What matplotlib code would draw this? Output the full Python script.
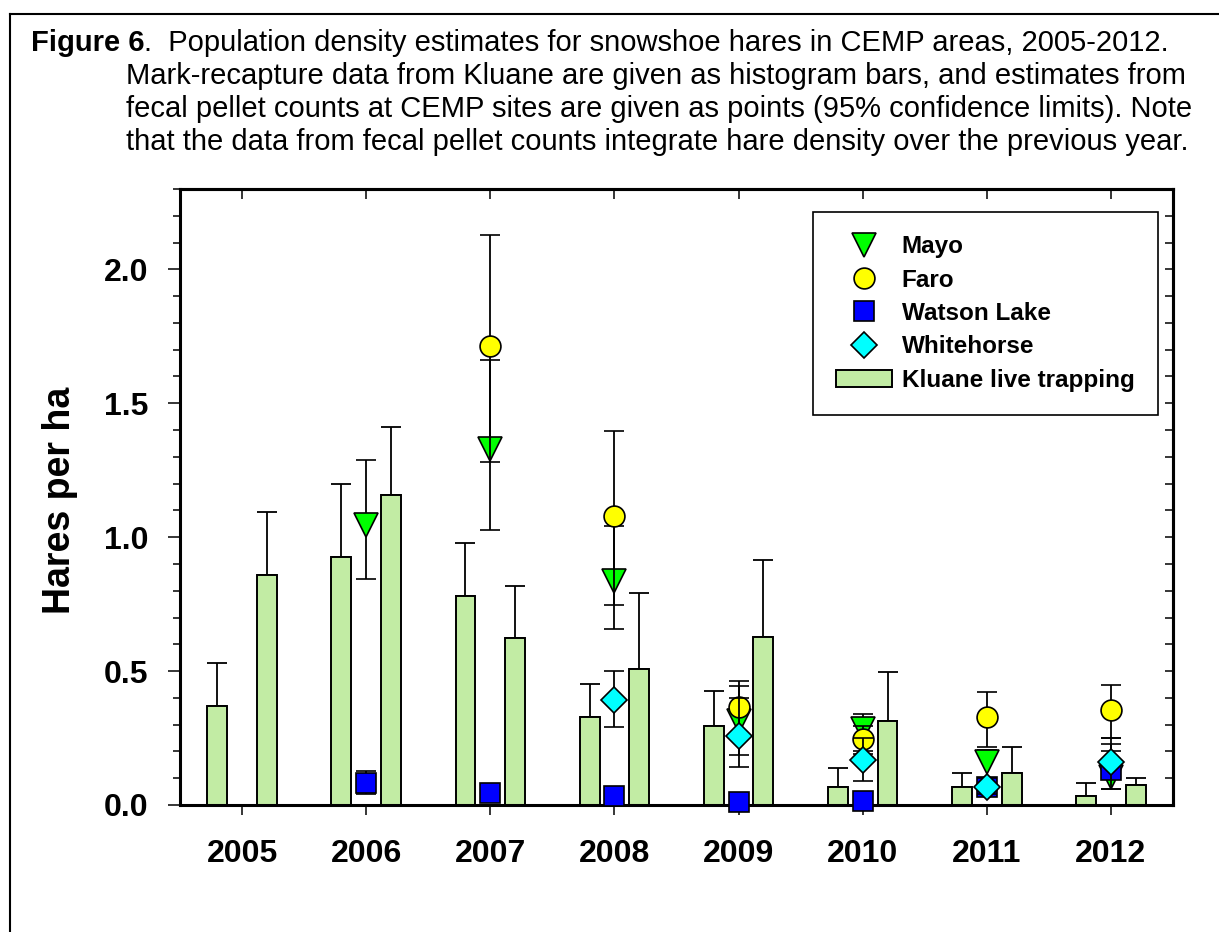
import numpy as np
import matplotlib
matplotlib.use("Agg")
import matplotlib.pyplot as plt
from matplotlib.lines import Line2D
from matplotlib.patches import Patch
from matplotlib.ticker import MultipleLocator

plt.rcParams['font.family'] = ['Liberation Sans', 'DejaVu Sans']

# Kluane live trapping (two bars per year)
years = [2005, 2006, 2007, 2008, 2009, 2010, 2011, 2012]
kluane_spring = [0.37, 0.925, 0.78, 0.327, 0.295, 0.069, 0.069, 0.034]
kluane_spring_upper = [0.53, 1.20, 0.98, 0.45, 0.425, 0.138, 0.12, 0.083]
kluane_autumn = [0.86, 1.158, 0.623, 0.507, 0.627, 0.312, 0.118, 0.074]
kluane_autumn_upper = [1.095, 1.41, 0.818, 0.791, 0.914, 0.496, 0.218, 0.10]

# fecal pellet estimates with 95% limits
mayo_years = [2006, 2007, 2008, 2009, 2010, 2011, 2012]
mayo = [1.044, 1.328, 0.837, 0.315, 0.284, 0.161, 0.105]
mayo_lo = [0.843, 1.026, 0.657, 0.187, 0.20, 0.10, 0.061]
mayo_hi = [1.29, 1.663, 1.041, 0.445, 0.341, 0.207, 0.227]

faro_years = [2007, 2008, 2009, 2010, 2011, 2012]
faro = [1.712, 1.078, 0.365, 0.246, 0.33, 0.356]
faro_lo = [1.279, 0.748, 0.26, 0.19, 0.218, 0.25]
faro_hi = [2.13, 1.397, 0.464, 0.295, 0.422, 0.448]

watson_years = [2006, 2007, 2008, 2009, 2010, 2011, 2012]
watson = [0.084, 0.046, 0.034, 0.012, 0.015, 0.069, 0.13]
watson_lo = [0.041, 0.03, 0.02, 0.0, 0.0, 0.05, 0.10]
watson_hi = [0.127, 0.06, 0.05, 0.02, 0.03, 0.09, 0.20]

white_years = [2008, 2009, 2010, 2011, 2012]
white = [0.392, 0.258, 0.169, 0.069, 0.161]
white_lo = [0.292, 0.141, 0.089, 0.04, 0.061]
white_hi = [0.502, 0.40, 0.25, 0.10, 0.25]

W, H = 1219, 932
fig = plt.figure(figsize=(W / 100, H / 100), dpi=100)
ax = fig.add_axes([180 / W, 1 - 805 / H, (1173 - 180) / W, (805 - 189) / H])

bar_color = '#c2eca4'
x = np.array(years, dtype=float)
for off, vals, upper in [(-0.2, kluane_spring, kluane_spring_upper),
                         (0.2, kluane_autumn, kluane_autumn_upper)]:
    vals = np.array(vals)
    err = np.array(upper) - vals
    ax.errorbar(x + off, vals, yerr=[np.zeros_like(vals), err], fmt='none',
                ecolor='black', elinewidth=1.3, capsize=7, capthick=1.3, zorder=1.5)
    ax.bar(x + off, vals, width=0.16, color=bar_color, edgecolor='black',
           linewidth=1.4, zorder=2)

series = [
    (mayo_years, mayo, mayo_lo, mayo_hi, 'v', '#00ff00', 17),
    (faro_years, faro, faro_lo, faro_hi, 'o', '#ffff00', 15),
    (watson_years, watson, watson_lo, watson_hi, 's', '#0000ff', 14),
    (white_years, white, white_lo, white_hi, 'D', '#00ffff', 13),
]
for i, (yrs, v, lo, hi, mk, col, ms) in enumerate(series):
    v = np.array(v)
    yerr = [v - np.array(lo), np.array(hi) - v]
    eb = ax.errorbar(yrs, v, yerr=yerr, fmt=mk, ms=ms, mfc=col, mec='black', mew=1.2,
                     ecolor='black', elinewidth=1.3, capsize=7, capthick=1.3,
                     zorder=3 + i)
    eb[0].set_clip_on(False)

ax.set_xlim(2004.5, 2012.5)
ax.set_ylim(0, 2.3)
ax.set_xticks(years)
ax.set_xticklabels([str(y) for y in years], fontsize=23, fontweight='bold')
ax.set_yticks([0, 0.5, 1.0, 1.5, 2.0])
ax.set_yticklabels(['0.0', '0.5', '1.0', '1.5', '2.0'], fontsize=23, fontweight='bold')
ax.yaxis.set_minor_locator(MultipleLocator(0.1))
ax.tick_params(axis='x', direction='out', length=7.2, width=1.1, pad=17)
ax.tick_params(axis='y', which='major', direction='out', length=8.6, width=1.1, pad=14)
ax.tick_params(axis='y', which='minor', direction='out', length=5, width=1.1)
for s in ax.spines.values():
    s.set_linewidth(2.2)

top = ax.secondary_xaxis('top')
top.set_xticks(years)
top.set_xticklabels([])
top.tick_params(direction='in', length=7, width=1.1)
top.spines['top'].set_linewidth(2.2)

right = ax.secondary_yaxis('right')
right.set_yticks(np.round(np.arange(0, 2.31, 0.1), 1))
right.set_yticklabels([])
right.tick_params(direction='in', length=5.8, width=1.1)
right.spines['right'].set_linewidth(2.2)

fig.text(60 / W, 1 - 500 / H, 'Hares per ha', rotation=90, ha='center', va='center',
         fontsize=27, fontweight='bold')

handles = [
    Line2D([], [], ls='none', marker='v', ms=17, mfc='#00ff00', mec='black', mew=1.2),
    Line2D([], [], ls='none', marker='o', ms=15, mfc='#ffff00', mec='black', mew=1.2),
    Line2D([], [], ls='none', marker='s', ms=14, mfc='#0000ff', mec='black', mew=1.2),
    Line2D([], [], ls='none', marker='D', ms=13, mfc='#00ffff', mec='black', mew=1.2),
    Patch(facecolor=bar_color, edgecolor='black', linewidth=1.4),
]
labels = ['Mayo', 'Faro', 'Watson Lake', 'Whitehorse', 'Kluane live trapping']
leg = ax.legend(handles, labels, loc='upper left', bbox_to_anchor=(813 / W, 1 - 212 / H),
                bbox_transform=fig.transFigure, borderaxespad=0, frameon=True,
                fancybox=False, framealpha=1, edgecolor='black',
                prop={'weight': 'bold', 'size': 17.5}, handlelength=2.3,
                handleheight=0.7, handletextpad=0.4, labelspacing=0.43, borderpad=0.95)
leg.get_frame().set_linewidth(1.2)
leg.set_zorder(10)

# figure caption
fs = 21
t1 = fig.text(31 / W, 1 - 51 / H, 'Figure 6', fontsize=fs, fontweight='bold',
              ha='left', va='baseline')
ax.annotate('.  Population density estimates for snowshoe hares in CEMP areas, 2005-2012.',
            xy=(1, 0), xycoords=t1, ha='left', va='bottom', fontsize=fs,
            annotation_clip=False)
caption = [
    'Mark-recapture data from Kluane are given as histogram bars, and estimates from',
    'fecal pellet counts at CEMP sites are given as points (95% confidence limits). Note',
    'that the data from fecal pellet counts integrate hare density over the previous year.',
]
for k, line in enumerate(caption):
    fig.text(126 / W, 1 - (84 + 33 * k) / H, line, fontsize=fs, ha='left', va='baseline')

# outer frame (top and left edges)
fig.add_artist(Line2D([9.5 / W, 9.5 / W], [0, 1 - 14 / H], color='black', lw=1.5,
                      transform=fig.transFigure))
fig.add_artist(Line2D([9.5 / W, 1], [1 - 14 / H, 1 - 14 / H], color='black', lw=1.5,
                      transform=fig.transFigure))

fig.savefig('out.png', dpi=100)
